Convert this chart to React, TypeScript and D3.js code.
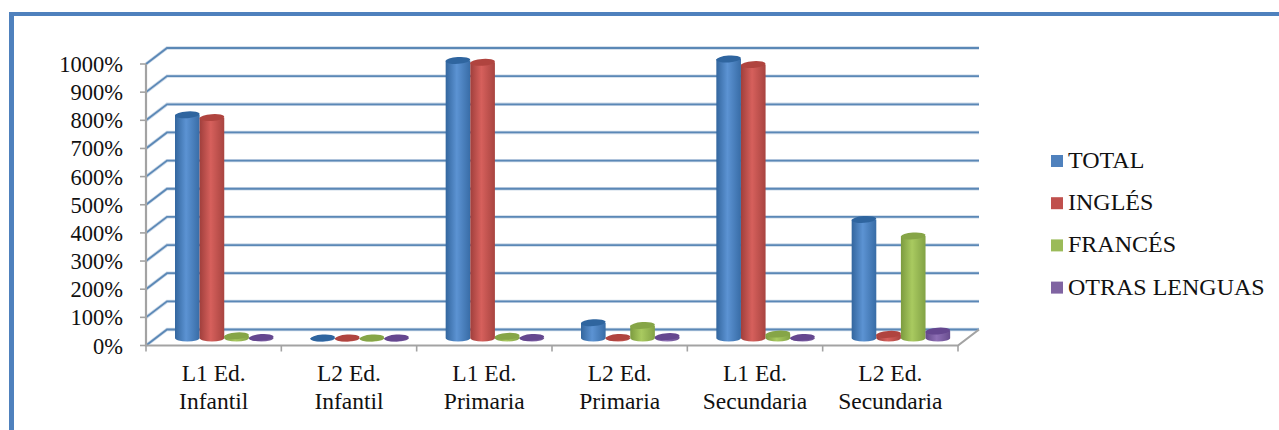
import React from "react";
import * as d3 from "d3";

const categories = [
  ["L1 Ed.", "Infantil"],
  ["L2 Ed.", "Infantil"],
  ["L1 Ed.", "Primaria"],
  ["L2 Ed.", "Primaria"],
  ["L1 Ed.", "Secundaria"],
  ["L2 Ed.", "Secundaria"],
];
const seriesNames = ["TOTAL", "INGLÉS", "FRANCÉS", "OTRAS LENGUAS"];
const total = [800, 0, 995, 55, 1000, 425];
const ingles = [790, 0, 988, 2, 980, 13];
const frances = [8, 0, 6, 45, 14, 366];
const otras = [2, 0, 2, 5, 2, 25];
const seriesValues = [total, ingles, frances, otras];
const ticks = [0, 100, 200, 300, 400, 500, 600, 700, 800, 900, 1000];
const legendColors = ["#4f81bd", "#c0504d", "#9bbb59", "#8064a2"];
// left edge, centre and right edge tints of each cylinder
const shades = [
  ["#33669e", "#5c93d3", "#386ca6"],
  ["#a03f3c", "#d6605c", "#a84440"],
  ["#7c9b3f", "#a9ca60", "#82a245"],
  ["#64498a", "#8e6fb5", "#684d8e"],
];
const topTints = ["#2f659f", "#b0443f", "#86a547", "#65478f"];

const frontLeft = 146;
const frontRight = 958;
const frontBottom = 345.5;
const frontTop = 64;
const depthX = 21;
const depthY = 16;

const yFront = d3.scaleLinear().domain([0, 1000]).range([frontBottom, frontTop]);
const yBar = d3.scaleLinear().domain([0, 1000]).range([338, 59]);
const xCat = d3.scaleBand<number>().domain(d3.range(categories.length)).range([frontLeft, frontRight]);
const xSeries = d3.scaleBand<number>().domain(d3.range(seriesNames.length)).range([29, 127.5]);

const GRID = "#5b88b6";
const GRID_HALO = "#ccd9e8";
const AXIS = "#a3a3a3";
const SERIF = "'Liberation Serif', 'Times New Roman', serif";
const RY = 3.4;
const TILT = -4;

function Cylinder({ s, c, v }: { s: number; c: number; v: number }) {
  const x = xCat(c)! + xSeries(s)!;
  const w = xSeries.bandwidth();
  const rx = w / 2;
  const cx = x + rx;
  const base = yBar(0);
  const top = yBar(v);
  const body = `M${x},${top}V${base}A${rx},${RY} 0 0 0 ${x + w},${base}V${top}Z`;
  return (
    <g>
      <path d={body} fill={`url(#cyl${s})`} />
      <ellipse
        cx={cx}
        cy={top}
        rx={rx}
        ry={RY}
        fill={topTints[s]}
        transform={`rotate(${TILT} ${cx} ${top})`}
      />
    </g>
  );
}

export default function App() {
  return (
    <svg
      width={1279}
      height={430}
      style={{ position: "absolute", left: 0, top: 0, background: "#fff" }}
    >
      <defs>
        {shades.map((sh, i) => (
          <linearGradient key={i} id={`cyl${i}`} x1="0" x2="1" y1="0" y2="0">
            <stop offset="0" stopColor={sh[0]} />
            <stop offset="0.45" stopColor={sh[1]} />
            <stop offset="1" stopColor={sh[2]} />
          </linearGradient>
        ))}
      </defs>

      {/* outer frame: top and left edges only */}
      <rect x={9} y={12} width={1270} height={4} fill="#4f81bd" />
      <rect x={9} y={12} width={5} height={418} fill="#4f81bd" />

      {/* gridlines on the back wall with their slanted returns on the side wall */}
      {ticks.map((t) => {
        const yf = yFront(t);
        const d = `M${frontLeft},${yf}L${frontLeft + depthX},${yf - depthY}H${frontRight + depthX}`;
        return (
          <g key={t} fill="none">
            <path d={d} stroke={GRID_HALO} strokeWidth={3.4} />
            <path d={d} stroke={GRID} strokeWidth={1.8} />
          </g>
        );
      })}

      {/* floor front edge, right edge and value axis */}
      <path
        d={`M${frontLeft},${frontTop}V${frontBottom}H${frontRight}L${frontRight + depthX},${frontBottom - depthY}`}
        fill="none"
        stroke={AXIS}
        strokeWidth={2.2}
      />
      {ticks.map((t) => (
        <line
          key={t}
          x1={frontLeft - 6}
          x2={frontLeft}
          y1={yFront(t)}
          y2={yFront(t)}
          stroke={AXIS}
          strokeWidth={1.6}
        />
      ))}
      {d3.range(categories.length + 1).map((i) => {
        const x = i < categories.length ? xCat(i)! : frontRight;
        return (
          <line key={i} x1={x} x2={x} y1={frontBottom} y2={frontBottom + 6} stroke={AXIS} strokeWidth={1.6} />
        );
      })}

      {/* cylinders, drawn series by series within each category */}
      {categories.map((_, c) =>
        seriesValues.map((vals, s) => <Cylinder key={`${c}-${s}`} s={s} c={c} v={vals[c]} />)
      )}

      {/* value axis labels */}
      {ticks.map((t) => (
        <text
          key={t}
          x={123}
          y={yFront(t) + 8}
          textAnchor="end"
          fontFamily={SERIF}
          fontSize={22.5}
          fill="#111"
        >
          {t}%
        </text>
      ))}

      {/* category labels */}
      {categories.map((lines, c) => {
        const cx = xCat(c)! + xCat.bandwidth() / 2;
        return (
          <text key={c} textAnchor="middle" fontFamily={SERIF} fontSize={23.5} fill="#111">
            <tspan x={cx} y={381}>
              {lines[0]}
            </tspan>
            <tspan x={cx} y={409}>
              {lines[1]}
            </tspan>
          </text>
        );
      })}

      {/* legend */}
      {seriesNames.map((name, i) => {
        const y = 161 + i * 42.2;
        return (
          <g key={name}>
            <rect x={1051} y={y - 6} width={12} height={12} fill={legendColors[i]} />
            <text x={1068} y={y + 7} fontFamily={SERIF} fontSize={24} fill="#111">
              {name}
            </text>
          </g>
        );
      })}
    </svg>
  );
}
